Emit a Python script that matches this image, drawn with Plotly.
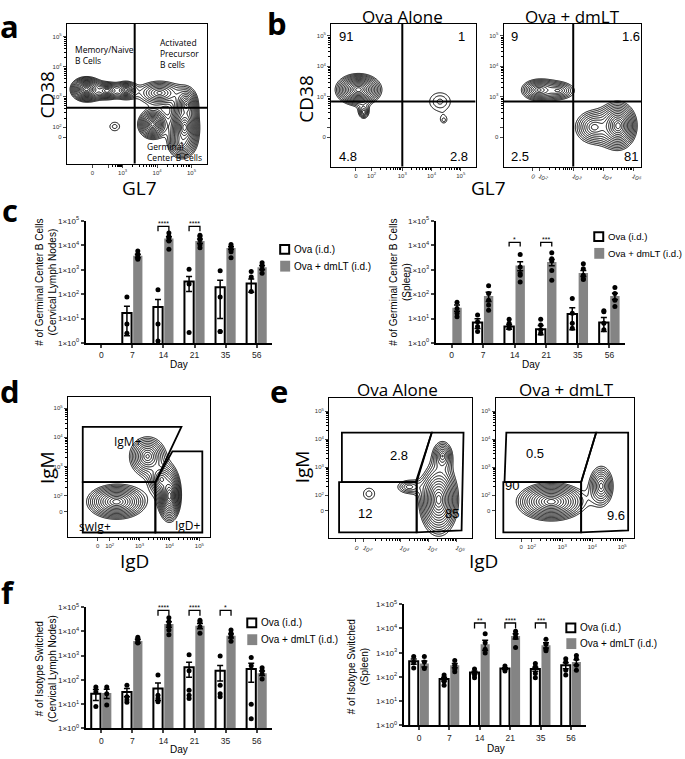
import numpy as np
import plotly.graph_objects as go

W, H = 685, 759

def xd(a, b):
    return [a / W, b / W]

def yd(top, bottom):
    return [1 - bottom / H, 1 - top / H]

def px(x):
    return x / W

def py(y):
    return 1 - y / H

# ---------------- DATA ----------------
days = ["0", "7", "14", "21", "35", "56"]
log_ticks = [1, 10, 100, 1000, 10000, 100000]
log_ticktext = ["1×10<sup>0</sup>", "1×10<sup>1</sup>", "1×10<sup>2</sup>",
                "1×10<sup>3</sup>", "1×10<sup>4</sup>", "1×10<sup>5</sup>"]

# c (left) germinal center B cells, cervical lymph nodes
gc_ln_ova = [None, 17, 30, 330, 190, 270]
gc_ln_ova_sem = [None, 15, 30, 200, 180, 150]
gc_ln_ova_pts = [[], [76, 6, 2.5], [150, 6, 1.2], [1050, 260, 2.7], [900, 76, 3, 3], [850, 500, 130]]
gc_ln_dm = [None, 3700, 19000, 15000, 7800, 1250]
gc_ln_dm_sem = [None, 600, 3500, 3000, 1100, 250]
gc_ln_dm_pts = [[], [5800, 4300, 3600, 3000, 2700], [32000, 23000, 19000, 15000, 6800],
                [26000, 23000, 17000, 10700, 8000], [10700, 8400, 6800, 5400, 3100],
                [1950, 1450, 1050, 710]]

# c (right) germinal center B cells, spleen
gc_sp_ova = [None, 6.9, 4.7, 3.7, 15.5, 7]
gc_sp_ova_sem = [None, 3, 1, 1.5, 12, 4]
gc_sp_ova_pts = [[], [14, 7.5, 4.7, 3], [9.4, 6.5, 5, 4], [9.4, 5.5, 3.5, 2.5],
                 [66, 16.5, 6.5, 4], [21, 19, 6.5, 3.5]]
gc_sp_dm = [28, 85, 1500, 2050, 730, 85]
gc_sp_dm_sem = [8, 35, 600, 600, 200, 25]
gc_sp_dm_pts = [[47, 26, 16.5, 12], [220, 107, 57, 36, 22], [4200, 1300, 700, 590, 316],
                [4900, 2800, 2300, 940, 370], [1750, 1100, 590, 430, 400], [186, 107, 57, 31]]

# f (left) isotype switched, cervical lymph nodes
sw_ln_ova = [27, 32, 44, 330, 240, 280]
sw_ln_ova_sem = [13, 12, 30, 200, 150, 200]
sw_ln_ova_pts = [[51, 32, 8], [60, 20, 15, 12], [160, 23, 17, 12.6], [1100, 240, 37, 23, 17],
                 [960, 60, 27, 20], [830, 380, 10, 2.5]]
sw_ln_dm = [29, 4000, 20000, 17000, 6600, 190]
sw_ln_dm_sem = [12, 700, 5000, 4000, 1200, 40]
sw_ln_dm_pts = [[51, 27, 9.3], [5800, 4800, 4000, 3300], [37000, 25000, 18000, 11500, 7200],
                [29000, 25000, 15500, 8300], [11500, 8300, 6200, 3900], [320, 240, 175, 110]]

# f (right) isotype switched, spleen
sw_sp_ova = [440, 83, 152, 222, 210, 300]
sw_sp_ova_sem = [110, 15, 20, 20, 40, 80]
sw_sp_ova_pts = [[690, 410, 235], [120, 88, 65, 45], [210, 150, 120, 93], [285, 222, 175],
                 [355, 260, 140, 93], [560, 410, 190, 120]]
sw_sp_dm = [355, 300, 2240, 4900, 2050, 410]
sw_sp_dm_sem = [100, 60, 1000, 1200, 500, 100]
sw_sp_dm_pts = [[690, 410, 222], [480, 300, 210, 163], [6000, 2600, 1400, 980],
                [7700, 5700, 4200, 1650], [3550, 2240, 1400, 1200], [760, 560, 300, 190]]

# significance brackets: (day index, stars)
sig_c_left = [(2, "****"), (3, "****")]
sig_c_right = [(2, "*"), (3, "***")]
sig_f_left = [(2, "****"), (3, "****"), (4, "*")]
sig_f_right = [(2, "**"), (3, "****"), (4, "***")]

# flow cytometry tick labels (logicle-like display units)
flow_tick_text = ["0", "10<sup>2</sup>", "10<sup>3</sup>", "10<sup>4</sup>", "10<sup>5</sup>"]

# density blobs: (cx, cy, sx, sy, weight)
blobs_a = [(1.95, 3.25, 0.18, 0.16, 1.0), (2.55, 3.2, 0.2, 0.14, 0.4), (3.1, 3.22, 0.15, 0.14, 0.4),
           (4.07, 3.13, 0.35, 0.22, 0.3), (3.87, 2.09, 0.17, 0.2, 0.8), (4.8, 1.99, 0.16, 0.3, 1.0),
           (4.85, 2.75, 0.15, 0.25, 0.5), (4.7, 1.45, 0.2, 0.25, 0.3), (2.77, 2.02, 0.3, 0.3, 0.06)]
blobs_b1 = [(1.5, 3.23, 0.3, 0.2, 1.0), (1.68, 2.5, 0.13, 0.16, 0.15), (4.29, 2.84, 0.55, 0.45, 0.07),
            (4.42, 2.23, 0.15, 0.15, 0.045)]
blobs_b2 = [(1.85, 3.22, 0.3, 0.18, 0.35), (2.5, 3.2, 0.35, 0.18, 0.2), (4.5, 2.05, 0.24, 0.3, 1.0),
            (3.7, 2.0, 0.35, 0.3, 0.3)]
blobs_d = [(2.23, 1.8, 0.4, 0.24, 0.8), (4.0, 2.0, 0.15, 0.34, 1.0), (3.27, 3.35, 0.29, 0.32, 0.45),
           (3.73, 2.57, 0.2, 0.25, 0.4)]
blobs_e1 = [(4.36, 1.84, 0.27, 0.49, 1.0), (4.5, 3.4, 0.2, 0.3, 0.25), (3.3, 2.3, 0.35, 0.2, 0.12),
            (1.86, 2.05, 0.4, 0.4, 0.06)]
blobs_e2 = [(2.63, 1.77, 0.44, 0.26, 1.0), (4.3, 2.33, 0.22, 0.39, 0.3)]

# gates (display units)
gate_a_x, gate_a_y = 3.35, 2.64
gate_b1_x, gate_b1_y = 3.0, 2.84
gate_b2_x, gate_b2_y = 3.0, 2.84
gates_d = [[(1.1, 4.36), (4.4, 4.36), (3.53, 2.47), (1.1, 2.47)],
           [(1.1, 2.47), (3.53, 2.47), (3.53, 0.75), (1.1, 0.75)],
           [(4.1, 3.52), (5.1, 3.52), (5.1, 0.75), (3.53, 0.75), (3.53, 2.47)]]
gates_e1 = [[(0.89, 4.23), (4.11, 4.23), (3.54, 2.47), (0.89, 2.47)],
            [(0.79, 2.47), (3.57, 2.47), (3.57, 0.68), (0.79, 0.68)],
            [(4.11, 4.23), (5.25, 4.23), (5.18, 0.75), (3.57, 0.68), (3.57, 2.47)]]
gates_e2 = [[(1.13, 4.23), (4.13, 4.23), (3.63, 2.47), (1.07, 2.47)],
            [(1.03, 2.47), (3.63, 2.47), (3.63, 0.68), (1.03, 0.68)],
            [(4.13, 4.23), (5.2, 4.23), (5.2, 0.75), (3.63, 0.68), (3.63, 2.47)]]

FONT = "Liberation Sans"
LBL = "Open Sans"
GRAY = "#848484"

fig = go.Figure()
shapes = []
annotations = []

def ann(x, y, text, size=10, angle=0, xanchor="center", yanchor="middle", bold=False, family=FONT, **kw):
    annotations.append(dict(x=px(x), y=py(y), xref="paper", yref="paper", text=("<b>%s</b>" % text) if bold else text,
                            showarrow=False, textangle=angle, xanchor=xanchor, yanchor=yanchor,
                            font=dict(family=family, size=size, color="black"), **kw))

# ---------------- FLOW PANELS ----------------
def density(blobs, xr, yr):
    xs = np.linspace(xr[0], xr[1], 240)
    ys = np.linspace(yr[0], yr[1], 240)
    X, Y = np.meshgrid(xs, ys)
    Z = np.zeros_like(X)
    for cx, cy, sx, sy, w in blobs:
        r = np.sqrt(((X - cx) / sx) ** 2 + ((Y - cy) / sy) ** 2)
        Z += w * np.exp(-r ** 1.2)
    return xs, ys, np.log10(Z + 1e-12)

def minor_vals(major):
    out = []
    for k in range(1, len(major) - 1):
        a, b = major[k], major[k + 1]
        for m in range(2, 10):
            out.append(a + (b - a) * np.log10(m))
    return out

def flow_panel(n, blobs, xdom, ydom, xr, yr, xt, yt):
    xs, ys, Z = density(blobs, xr, yr)
    zmax = Z.max()
    sfx = str(n) if n > 1 else ""
    fig.add_trace(go.Contour(x=xs, y=ys, z=Z, xaxis="x" + sfx, yaxis="y" + sfx,
                             contours=dict(coloring="lines", start=zmax - 1.4, end=zmax - 0.05, size=0.1),
                             line=dict(color="black", width=1), colorscale=[[0, "black"], [1, "black"]],
                             showscale=False, hoverinfo="skip"))
    common = dict(showline=True, mirror=True, linecolor="black", linewidth=1, ticks="outside", ticklen=3,
                  tickwidth=1, tickfont=dict(family=FONT, size=6, color="#333"), showgrid=False, zeroline=False)
    ax = dict(domain=xdom, range=xr, tickvals=xt, ticktext=flow_tick_text, anchor="y" + sfx,
              minor=dict(tickvals=minor_vals(xt), ticks="outside", ticklen=2, tickcolor="black"), **common)
    ay = dict(domain=ydom, range=yr, tickvals=yt, ticktext=flow_tick_text, anchor="x" + sfx,
              minor=dict(tickvals=minor_vals(yt), ticks="outside", ticklen=2, tickcolor="black"), **common)
    fig.update_layout(**{"xaxis" + sfx: ax, "yaxis" + sfx: ay})

def quad_lines(n, gx, gy, xr, yr, width=2):
    sfx = str(n) if n > 1 else ""
    shapes.append(dict(type="line", xref="x" + sfx, yref="y" + sfx, x0=gx, x1=gx, y0=yr[0], y1=yr[1],
                       line=dict(color="black", width=width)))
    shapes.append(dict(type="line", xref="x" + sfx, yref="y" + sfx, x0=xr[0], x1=xr[1], y0=gy, y1=gy,
                       line=dict(color="black", width=width)))

def gate_paths(n, gates):
    for g in gates:
        path = "M " + " L ".join("%g,%g" % p for p in g) + " Z"
        shapes.append(dict(type="path", path=path, xref="x%d" % n, yref="y%d" % n,
                           line=dict(color="black", width=1.8)))

# a
xr_a, yr_a = [1.38, 5.46], [0.79, 5.42]
flow_panel(1, blobs_a, xd(67, 208), yd(18, 160), xr_a, yr_a, [2.12, 2.6, 3.0, 4.0, 5.0],
           [1.67, 2.0, 3.0, 4.0, 5.0])
fig.layout.xaxis.ticktext = ["0", "", "10<sup>3</sup>", "10<sup>4</sup>", "10<sup>5</sup>"]
quad_lines(1, gate_a_x, gate_a_y, xr_a, yr_a)

# b
xr_b1, yr_b1 = [0.56, 5.51], [0.71, 5.39]
flow_panel(2, blobs_b1, xd(332, 477), yd(18, 163), xr_b1, yr_b1, [1.41, 1.95, 3.0, 4.0, 5.0],
           [1.68, 2.0, 3.0, 4.0, 5.0])
fig.layout.yaxis2.ticktext = ["0", "", "10<sup>3</sup>", "10<sup>4</sup>", "10<sup>5</sup>"]
quad_lines(2, gate_b1_x, gate_b1_y, xr_b1, yr_b1)
xr_b2, yr_b2 = [0.67, 5.27], [0.71, 5.39]
flow_panel(3, blobs_b2, xd(505, 643), yd(18, 163), xr_b2, yr_b2, [1.63, 1.87, 3.0, 4.0, 5.0],
           [1.68, 2.0, 3.0, 4.0, 5.0])
fig.layout.yaxis3.ticktext = ["0", "", "10<sup>3</sup>", "10<sup>4</sup>", "10<sup>5</sup>"]
quad_lines(3, gate_b2_x, gate_b2_y, xr_b2, yr_b2)

# d
xr_d, yr_d = [0.6, 5.37], [0.59, 5.37]
flow_panel(6, blobs_d, xd(68, 211), yd(397, 539), xr_d, yr_d, [1.6, 2.0, 3.0, 4.0, 5.0],
           [1.46, 2.0, 3.0, 4.0, 5.0])
gate_paths(6, gates_d)

# e
xr_e1, yr_e1 = [0.43, 5.54], [0.47, 5.46]
flow_panel(7, blobs_e1, xd(330, 473), yd(398, 540), xr_e1, yr_e1, [1.39, 1.68, 3.0, 4.0, 5.0],
           [1.44, 2.0, 3.0, 4.0, 5.0])
gate_paths(7, gates_e1)
xr_e2, yr_e2 = [0.77, 5.4], [0.47, 5.46]
flow_panel(8, blobs_e2, xd(497, 636), yd(398, 540), xr_e2, yr_e2, [1.63, 1.97, 3.0, 4.0, 5.0],
           [1.44, 2.0, 3.0, 4.0, 5.0])
gate_paths(8, gates_e2)

# ---------------- BAR PANELS ----------------
def bar_panel(n, ova, ova_sem, ova_pts, dm, dm_sem, dm_pts, xdom, ydom, sigs, br_top, br_leg):
    xa = "x%d" % n
    ya = "y%d" % n
    fig.add_trace(go.Bar(x=days, y=ova, xaxis=xa, yaxis=ya, offsetgroup="ova", alignmentgroup=str(n),
                         marker=dict(color="white", line=dict(color="black", width=2)),
                         error_y=dict(type="data", array=ova_sem, color="black", thickness=1.5, width=3),
                         showlegend=False))
    fig.add_trace(go.Bar(x=days, y=dm, xaxis=xa, yaxis=ya, offsetgroup="dm", alignmentgroup=str(n),
                         marker=dict(color=GRAY, line=dict(width=0)),
                         error_y=dict(type="data", array=dm_sem, color="black", thickness=1.5, width=3),
                         showlegend=False))
    for pts, grp in ((ova_pts, "ova"), (dm_pts, "dm")):
        xs = [d for d, p in zip(days, pts) for _ in p]
        ys = [v for p in pts for v in p]
        fig.add_trace(go.Scatter(x=xs, y=ys, xaxis=xa, yaxis=ya, mode="markers", offsetgroup=grp,
                                 alignmentgroup=str(n),
                                 marker=dict(color="black", size=5), showlegend=False))
    fig.update_layout(**{
        "xaxis%d" % n: dict(domain=xdom, type="category", categoryorder="array", categoryarray=days,
                            range=[-0.5, 5.5], showline=True, linecolor="black", linewidth=2, ticks="outside",
                            ticklen=3, tickwidth=1.5, tickfont=dict(family=FONT, size=8.5, color="#222"),
                            showgrid=False, zeroline=False, anchor=ya),
        "yaxis%d" % n: dict(domain=ydom, type="log", range=[0, 5], tickvals=log_ticks, ticktext=log_ticktext,
                            showline=True, linecolor="black", linewidth=2, ticks="outside", ticklen=3,
                            tickwidth=1.5, tickfont=dict(family=FONT, size=8, color="#222"), showgrid=False,
                            zeroline=False, anchor=xa)})
    for i, stars in sigs:
        path = "M %g,%g L %g,%g L %g,%g L %g,%g" % (i - 0.175, br_leg, i - 0.175, br_top,
                                                    i + 0.175, br_top, i + 0.175, br_leg)
        shapes.append(dict(type="path", path=path, xref=xa, yref=ya + " domain", line=dict(color="black", width=1.3)))
        annotations.append(dict(x=i, y=br_top, xref=xa, yref=ya + " domain", text=stars, showarrow=False,
                                yanchor="bottom", yshift=-3, font=dict(family=FONT, size=7, color="black")))

bar_panel(4, gc_ln_ova, gc_ln_ova_sem, gc_ln_ova_pts, gc_ln_dm, gc_ln_dm_sem, gc_ln_dm_pts,
          xd(86, 273), yd(218, 342), sig_c_left, 0.955, 0.915)
bar_panel(5, gc_sp_ova, gc_sp_ova_sem, gc_sp_ova_pts, gc_sp_dm, gc_sp_dm_sem, gc_sp_dm_pts,
          xd(437, 627), yd(218, 342), sig_c_right, 0.824, 0.79)
bar_panel(9, sw_ln_ova, sw_ln_ova_sem, sw_ln_ova_pts, sw_ln_dm, sw_ln_dm_sem, sw_ln_dm_pts,
          xd(86, 273), yd(610, 733), sig_f_left, 0.973, 0.93)
bar_panel(10, sw_sp_ova, sw_sp_ova_sem, sw_sp_ova_pts, sw_sp_dm, sw_sp_dm_sem, sw_sp_dm_pts,
          xd(405, 588), yd(607, 730), sig_f_right, 0.845, 0.80)

# legends
def legend(x, y1, y2, w1=9, h1=9, w2=10, h2=11, size=10):
    shapes.append(dict(type="rect", xref="paper", yref="paper", x0=px(x), x1=px(x + w1),
                       y0=py(y1 + h1 / 2), y1=py(y1 - h1 / 2), line=dict(color="black", width=2),
                       fillcolor="white"))
    shapes.append(dict(type="rect", xref="paper", yref="paper", x0=px(x), x1=px(x + w2),
                       y0=py(y2 + h2 / 2), y1=py(y2 - h2 / 2), line=dict(width=0), fillcolor=GRAY))
    t = x + w2 + 2
    ann(t, y1, "Ova (i.d.)", size=size, xanchor="left")
    ann(t, y2, "Ova + dmLT (i.d.)", size=size, xanchor="left")

legend(281, 247, 264)
legend(596, 234, 251, size=9.6)
legend(248, 626, 643)
legend(568, 631, 647)

# ---------------- TEXT ----------------
for x, y, t in [(10, 20, "a"), (278, 17, "b"), (10, 207, "c"), (10, 391, "d"), (280, 391, "e"), (8, 595, "f")]:
    ann(x, y, t, size=31, bold=True, family=LBL)

ann(47, 90, "CD38", size=19, angle=-90, family=LBL)
ann(140, 185, "GL7", size=19, family=LBL)
ann(307, 95, "CD38", size=19, angle=-90, family=LBL)
ann(490, 185, "GL7", size=19, family=LBL)
ann(404, 11, "Ova Alone", size=17, family=LBL)
ann(574, 11, "Ova + dmLT", size=17, family=LBL)
ann(47, 468, "IgM", size=19, angle=-90, family=LBL)
ann(135, 563, "IgD", size=19, family=LBL)
ann(303, 468, "IgM", size=19, angle=-90, family=LBL)
ann(485, 563, "IgD", size=19, family=LBL)
ann(399, 389, "Ova Alone", size=17, family=LBL)
ann(568, 389, "Ova + dmLT", size=17, family=LBL)

# panel a labels
ann(73, 50, "Memory/Naive<br>B Cells", size=8.5, xanchor="left", align="left", family=LBL)
ann(158, 48, "Activated<br>Precursor<br>B cells", size=8.5, xanchor="left", align="left", family=LBL)
ann(145, 148, "Germinal<br>Center B Cells", size=8.5, xanchor="left", align="left", family=LBL)

# panel b numbers
for x, y, t in [(347, 31, "91"), (463, 31, "1"), (349, 153, "4.8"), (460, 153, "2.8"),
                (516, 31, "9"), (633, 31, "1.6"), (522, 153, "2.5"), (633, 153, "81")]:
    ann(x, y, t, size=13)

# panel d labels
ann(128, 442, "IgM+", size=12, family=LBL)
ann(95, 528, "swIg+", size=12, family=LBL)
ann(189, 527, "IgD+", size=12, family=LBL)

# panel e numbers
for x, y, t in [(400, 456, "2.8"), (366, 515, "12"), (453, 515, "85"),
                (537, 454, "0.5"), (513, 487, "90"), (618, 517, "9.6")]:
    ann(x, y, t, size=13)

# bar panel titles
ann(46, 280, "# of Germinal Center B Cells<br>(Cervical Lymph Nodes)", size=10, angle=-90)
ann(401, 280, "# of Germinal Center B Cells<br>(Spleen)", size=10, angle=-90)
ann(46, 672, "# of Isotype Switched<br>(Cervical Lymph Nodes)", size=10, angle=-90)
ann(359, 670, "# of Isotype Switched<br>(Spleen)", size=10, angle=-90)
ann(180, 364, "Day", size=10)
ann(533, 364, "Day", size=10)
ann(180, 754, "Day", size=10)
ann(497, 753, "Day", size=10)

fig.update_layout(width=W, height=H, margin=dict(l=0, r=0, t=0, b=0), paper_bgcolor="white",
                  plot_bgcolor="rgba(0,0,0,0)", barmode="group", bargap=0.3, bargroupgap=0.15,
                  scattermode="group", scattergap=0.3, showlegend=False,
                  shapes=shapes, annotations=annotations)

fig.write_html("out.html", config={"displayModeBar": False},
               post_script="document.body.style.margin='0px';")
